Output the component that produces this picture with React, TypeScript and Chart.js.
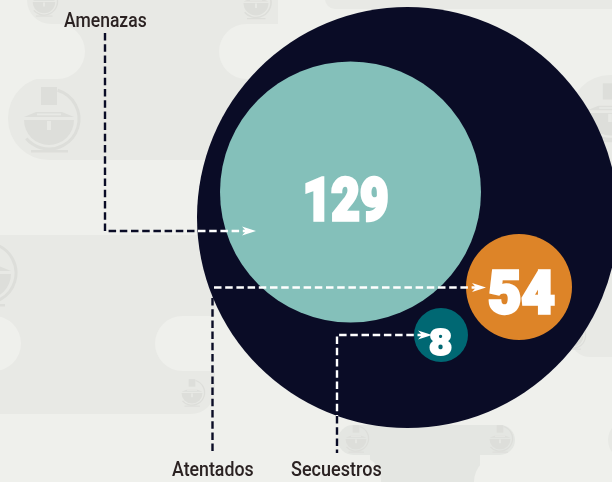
import React, { useEffect, useRef } from "react";
import { Chart, registerables } from "chart.js";

Chart.register(...registerables);

// Values and labels
const categories = ["Amenazas", "Atentados", "Secuestros"];
const values = [129, 54, 8];

// Bubble layout, in the page units of the hidden scales
const bubbleX = [350.5, 519, 441];
const bubbleY = [192, 287, 335];
const bubbleR = [130.5, 53, 27];
const totalBubble = { x: 407.5, y: 217.5, r: 210.5 };
const bubbleColors = ["#84C0BA", "#DD8428", "#006873"];

// Leader lines
const amenazasNavy = [{ x: 105, y: 33 }, { x: 105, y: 231 }, { x: 198, y: 231 }];
const amenazasWhite = [{ x: 198, y: 231 }, { x: 247, y: 231 }];
const atentadosNavy = [{ x: 212.5, y: 298 }, { x: 212.5, y: 451 }];
const atentadosWhite = [{ x: 214, y: 287.5 }, { x: 476, y: 287.5 }];
const secuestrosWhite = [{ x: 425, y: 335 }, { x: 337, y: 335 }, { x: 337, y: 416 }];
const secuestrosNavy = [{ x: 337, y: 416 }, { x: 337, y: 453 }];
const arrowTips = [{ x: 256, y: 231 }, { x: 486, y: 287.5 }, { x: 432, y: 335 }];

// Text boxes: left edge, baseline, width
const labelBoxes = [[64, 27, 82], [172, 476, 81], [291, 476, 90]];
const valueBoxes = [[306, 220, 81, 60], [490, 313, 64, 60], [430, 355, 21, 36]];

// Decorative background icons: x, y, scale
const icons = [
  [49, 120, 1], [44, 2, 0.45], [256, 3, 0.5], [-14, 274, 1], [610, 113, 0.9],
  [192, 393, 0.42], [356, 439, 0.42], [500, 439, 0.42], [573, 336, 0.42],
];

const BG = "#EFF0EC";
const BAND = "#E8E9E5";
const BAND2 = "#E4E6E2";
const ICON = "#DDDEDA";
const NAVY = "#0A0C26";
const INK = "#2B2222";

function pill(c: any, x: number, y: number, w: number, h: number, r: any, fill: string) {
  c.fillStyle = fill;
  c.beginPath();
  c.roundRect(x, y, w, h, r);
  c.fill();
}

function drawIcon(c: any, x: number, y: number, s: number) {
  c.save();
  c.translate(x, y);
  c.scale(s, s);
  c.fillStyle = ICON;
  c.strokeStyle = ICON;
  c.fillRect(-8, -33, 16, 18);
  c.lineWidth = 3;
  c.beginPath();
  c.arc(0, -1, 30, -1.28, 2.43);
  c.stroke();
  c.beginPath();
  c.moveTo(-25, 0);
  c.arc(0, 0, 25, Math.PI, 0, true);
  c.closePath();
  c.fill();
  c.beginPath();
  c.moveTo(-25, -3);
  c.lineTo(-13, -8);
  c.lineTo(13, -8);
  c.lineTo(25, -3);
  c.closePath();
  c.fill();
  c.fillStyle = "#E8E9E5";
  c.fillRect(-12, -6.5, 24, 1.8);
  c.fillRect(-2, 1, 4, 9);
  c.fillStyle = ICON;
  c.fillRect(-18, 30, 37, 2.5);
  c.restore();
}

const backgroundPlugin = {
  id: "paperBackground",
  beforeDraw(chart: any) {
    const c = chart.ctx;
    c.save();
    c.fillStyle = BG;
    c.fillRect(0, 0, 612, 482);
    // upper band
    pill(c, 27, -30, 251, 54, [0, 0, 24, 24], BAND);
    pill(c, 60, 0, 218, 160, 0, BAND);
    pill(c, 8, 77, 120, 83, 41, BAND);
    pill(c, 60, 77, 240, 83, 0, BAND);
    pill(c, 325, -20, 300, 29, 10, BAND);
    // light notches in the upper band
    pill(c, -60, 24, 145, 55, 27.5, BG);
    pill(c, 219, 24, 120, 55, 27.5, BG);
    pill(c, 278, 0, 47, 24, 0, BG);
    // right band
    pill(c, 570, 75, 100, 282, [40, 0, 0, 20], BAND);
    pill(c, 608, 420, 40, 40, 20, BAND);
    // middle band
    pill(c, -20, 235, 235, 179, [0, 0, 24, 0], BAND);
    pill(c, -60, 316, 81, 55, 27.5, BG);
    pill(c, 155, 316, 120, 55, 27.5, BG);
    // bottom band
    pill(c, 338, 425, 177, 30, 15, BAND2);
    c.fillStyle = BAND2;
    c.fillRect(370, 450, 110, 32);
    pill(c, 300, 455, 81, 50, 27, BG);
    pill(c, 474, 455, 170, 60, 27, BG);
    icons.forEach(([x, y, s]) => drawIcon(c, x, y, s));
    c.restore();
  },
};

function fitText(c: any, text: string, x: number, base: number, width: number, font: string, color: string, heavy = 0) {
  c.save();
  c.font = font;
  c.fillStyle = color;
  c.strokeStyle = color;
  c.textAlign = "left";
  c.textBaseline = "alphabetic";
  c.lineJoin = "miter";
  c.miterLimit = 2;
  const m = c.measureText(text);
  const real = m.actualBoundingBoxRight + m.actualBoundingBoxLeft;
  c.translate(x, base);
  c.scale(width / real, 1);
  c.fillText(text, m.actualBoundingBoxLeft, 0);
  if (heavy > 0) {
    c.lineWidth = heavy;
    c.strokeText(text, m.actualBoundingBoxLeft, 0);
  }
  c.restore();
}

const textPlugin = {
  id: "textAndArrows",
  afterDatasetsDraw(chart: any) {
    const c = chart.ctx;
    const sx = chart.scales.x;
    const sy = chart.scales.y;
    c.save();
    c.fillStyle = "#FFFFFF";
    arrowTips.forEach((t) => {
      const x = sx.getPixelForValue(t.x);
      const y = sy.getPixelForValue(t.y);
      c.beginPath();
      c.moveTo(x, y);
      c.lineTo(x - 14, y - 4.5);
      c.lineTo(x - 10, y);
      c.lineTo(x - 14, y + 4.5);
      c.closePath();
      c.fill();
    });
    c.restore();
    categories.forEach((name, i) => {
      const [x, base, w] = labelBoxes[i];
      fitText(c, name, x, base, w, "500 21px Roboto", INK);
    });
    values.forEach((v, i) => {
      const [x, base, w, size] = valueBoxes[i];
      fitText(c, String(v), x, base, w, `900 ${size}px Roboto`, "#FFFFFF", size / 18);
    });
  },
};

const line = (data: any[], color: string) => ({
  type: "line",
  data,
  borderColor: color,
  borderWidth: 2.4,
  borderDash: [7.5, 3.7],
  pointRadius: 0,
  tension: 0,
  fill: false,
  clip: false,
  order: 1,
});

export default function App() {
  const ref = useRef<HTMLCanvasElement | null>(null);
  useEffect(() => {
    if (!ref.current) return;
    const chart = new Chart(ref.current, {
      type: "bubble",
      data: {
        datasets: [
          line(amenazasNavy, NAVY),
          line(amenazasWhite, "#FFFFFF"),
          line(atentadosNavy, NAVY),
          line(atentadosWhite, "#FFFFFF"),
          line(secuestrosWhite, "#FFFFFF"),
          line(secuestrosNavy, NAVY),
          {
            type: "bubble",
            data: values.map((_, i) => ({ x: bubbleX[i], y: bubbleY[i], r: bubbleR[i] })),
            backgroundColor: bubbleColors,
            borderWidth: 0,
            clip: false,
            order: 5,
          },
          {
            type: "bubble",
            data: [totalBubble],
            backgroundColor: NAVY,
            borderWidth: 0,
            clip: false,
            order: 10,
          },
        ] as any,
      },
      options: {
        animation: false,
        responsive: false,
        events: [],
        layout: { padding: 0, autoPadding: false },
        scales: {
          x: { type: "linear", min: 0, max: 612, display: false },
          y: { type: "linear", min: 0, max: 482, reverse: true, display: false },
        },
        plugins: { legend: { display: false }, tooltip: { enabled: false } },
      },
      plugins: [backgroundPlugin, textPlugin],
    } as any);
    return () => chart.destroy();
  }, []);
  return (
    <div style={{ position: "fixed", left: 0, top: 0, width: 612, height: 482, overflow: "hidden" }}>
      <canvas ref={ref} width={612} height={482} style={{ display: "block" }} />
    </div>
  );
}
